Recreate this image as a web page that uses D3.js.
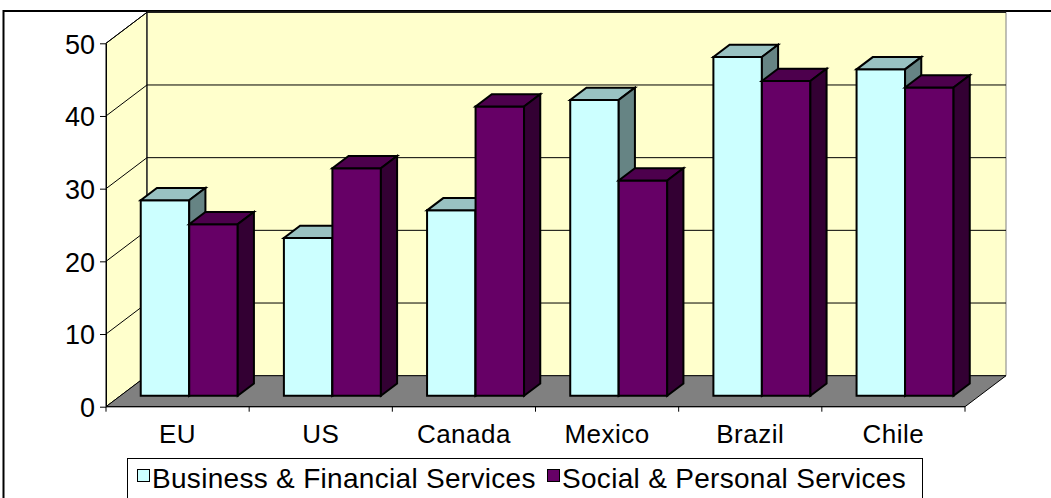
<!DOCTYPE html>
<html>
<head>
<meta charset="utf-8">
<script src="https://cdn.jsdelivr.net/npm/d3@7"></script>
<style>
  body { margin: 0; background: #fff; }
  svg { display: block; font-family: Arial, "Liberation Sans", sans-serif; }
</style>
</head>
<body>
<svg width="1051" height="498"></svg>
<script>
const categories = ["EU", "US", "Canada", "Mexico", "Brazil", "Chile"];
const seriesNames = ["Business & Financial Services", "Social & Personal Services"];
const businessValues = [26.9, 21.7, 25.5, 40.7, 46.6, 44.9];
const socialValues = [23.6, 31.3, 39.8, 29.6, 43.3, 42.4];
const yTicks = [0, 10, 20, 30, 40, 50];

const svg = d3.select("svg");
const width = +svg.attr("width");
const height = +svg.attr("height");

// front plane of the 3d box and its depth offset
const left = 106, right = 965;
const DX = 41, DY = 31;
const zFront = 0.355, zBack = 0.75;

const faces = [
    { front: "#CCFFFF", top: "#99C2C2", side: "#668484" },
    { front: "#660066", top: "#4D004D", side: "#330033" }
];

const y = d3.scaleLinear().domain([0, 50]).range([406.7, 43.3]);
const x = d3.scaleBand().domain(categories).range([left, right]);
const xs = d3.scaleBand().domain(seriesNames).range([0, x.bandwidth()])
    .paddingOuter(0.476).align(0.437);

// project (front x, value, depth) into svg space
const P = (px, v, z) => [px + z * DX, y(v) - z * DY];
const poly = pts => pts.map(p => p.join(",")).join(" ");

// outer frame
svg.append("rect")
    .attr("x", 3.5).attr("y", 11)
    .attr("width", 1100).attr("height", 600)
    .attr("fill", "#fff").attr("stroke", "#000").attr("stroke-width", 2);

const chart = svg.append("g");

// side wall
chart.append("polygon")
    .attr("points", poly([[left, y(0)], [left, y(50)], P(left, 50, 1), P(left, 0, 1)]))
    .attr("fill", "#FFFFCC").attr("stroke", "#000").attr("stroke-width", 1);

// back wall
chart.append("polygon")
    .attr("points", poly([P(left, 0, 1), P(left, 50, 1), P(right, 50, 1), P(right, 0, 1)]))
    .attr("fill", "#FFFFCC").attr("stroke", "#808080").attr("stroke-width", 1);

chart.append("line")
    .attr("x1", P(left, 0, 1)[0]).attr("y1", P(left, 0, 1)[1])
    .attr("x2", P(left, 50, 1)[0]).attr("y2", P(left, 50, 1)[1])
    .attr("stroke", "#000");

// gridlines on both walls
yTicks.filter(t => t > 0).forEach(t => {
    chart.append("polyline")
        .attr("points", poly([[left, y(t)], P(left, t, 1), P(right, t, 1)]))
        .attr("fill", "none").attr("stroke", "#000").attr("stroke-width", 1);
});

// floor
chart.append("polygon")
    .attr("points", poly([[left, y(0)], [right, y(0)], P(right, 0, 1), P(left, 0, 1)]))
    .attr("fill", "#808080").attr("stroke", "#000").attr("stroke-width", 1);

// bars
const rows = [];
categories.forEach((c, i) => {
    rows.push({ cat: c, s: 0, v: businessValues[i] });
    rows.push({ cat: c, s: 1, v: socialValues[i] });
});

const bars = chart.selectAll("g.bar").data(rows).enter().append("g").attr("class", "bar");
const bx = d => x(d.cat) + xs(seriesNames[d.s]);
const bw = xs.bandwidth();

bars.append("polygon")
    .attr("points", d => poly([P(bx(d), 0, zFront), P(bx(d) + bw, 0, zFront), P(bx(d) + bw, d.v, zFront), P(bx(d), d.v, zFront)]))
    .attr("fill", d => faces[d.s].front);
bars.append("polygon")
    .attr("points", d => poly([P(bx(d), d.v, zFront), P(bx(d) + bw, d.v, zFront), P(bx(d) + bw, d.v, zBack), P(bx(d), d.v, zBack)]))
    .attr("fill", d => faces[d.s].top);
bars.append("polygon")
    .attr("points", d => poly([P(bx(d) + bw, 0, zFront), P(bx(d) + bw, 0, zBack), P(bx(d) + bw, d.v, zBack), P(bx(d) + bw, d.v, zFront)]))
    .attr("fill", d => faces[d.s].side);
bars.selectAll("polygon")
    .attr("stroke", "#000").attr("stroke-width", 2).attr("stroke-linejoin", "miter");

// y axis
const yAxis = chart.append("g")
    .attr("transform", `translate(${left},0)`)
    .call(d3.axisLeft(y).tickValues(yTicks).tickSize(6).tickSizeOuter(0).tickPadding(5));
yAxis.select(".domain").attr("stroke", "#000");
yAxis.selectAll("line").attr("stroke", "#000");
yAxis.selectAll("text")
    .attr("font-size", 27).attr("fill", "#000").attr("dy", "0.36em")
    .style("font-family", "Arial, 'Liberation Sans', sans-serif");

// x axis
chart.append("line")
    .attr("x1", left).attr("x2", right).attr("y1", y(0)).attr("y2", y(0))
    .attr("stroke", "#000");
const bounds = categories.map(c => x(c)).concat([right]);
chart.selectAll("line.xtick").data(bounds).enter().append("line")
    .attr("class", "xtick")
    .attr("x1", d => d).attr("x2", d => d)
    .attr("y1", y(0)).attr("y2", y(0) + 5)
    .attr("stroke", "#000");
chart.selectAll("text.xlabel").data(categories).enter().append("text")
    .attr("class", "xlabel")
    .attr("x", d => x(d) + x.bandwidth() / 2)
    .attr("y", 443)
    .attr("text-anchor", "middle")
    .attr("font-size", 26)
    .attr("letter-spacing", 0.5)
    .text(d => d);

// legend
const legend = svg.append("g");
legend.append("rect")
    .attr("x", 127.5).attr("y", 458.5)
    .attr("width", 795).attr("height", 80)
    .attr("fill", "#fff").attr("stroke", "#000").attr("stroke-width", 1);

const legendX = [137, 547];
seriesNames.forEach((name, i) => {
    legend.append("rect")
        .attr("x", legendX[i] + 0.5).attr("y", 469.5)
        .attr("width", 12).attr("height", 12)
        .attr("fill", faces[i].front).attr("stroke", "#000");
    legend.append("text")
        .attr("x", legendX[i] + 15).attr("y", 488)
        .attr("font-size", 28)
        .attr("letter-spacing", 0.3)
        .text(name);
});
</script>
</body>
</html>
